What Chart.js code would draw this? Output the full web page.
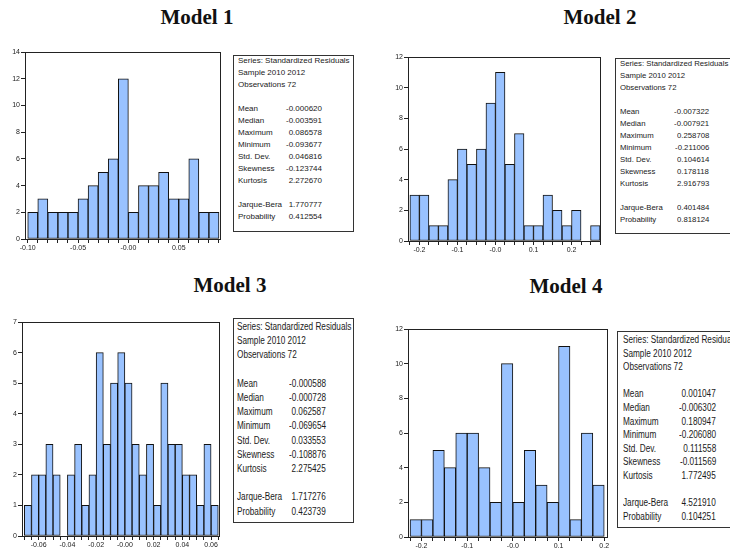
<!DOCTYPE html>
<html>
<head>
<meta charset="utf-8">
<script src="https://cdn.jsdelivr.net/npm/chart.js@4.4.0/dist/chart.umd.min.js"></script>
<style>
  body { margin: 0; width: 730px; height: 554px; overflow: hidden; position: relative; background: #fff; }
  canvas { position: absolute; }
  .title { position: absolute; font-family: "Liberation Serif", "Times New Roman", serif; font-weight: bold;
           font-size: 21px; line-height: 21px; color: #111; white-space: nowrap; transform: translateX(-50%); }
  .box { position: absolute; border: 1px solid #333; background: #fff; overflow: hidden; }
  .box span { position: absolute; white-space: nowrap; color: #1a1a1a; font-family: "Liberation Sans", Arial, sans-serif; }
</style>
</head>
<body>
<div class="title" style="left:197px;top:7px">Model 1</div>
<div class="title" style="left:600px;top:7px">Model 2</div>
<div class="title" style="left:230px;top:275px">Model 3</div>
<div class="title" style="left:566px;top:276px">Model 4</div>
<canvas id="m1"></canvas>
<canvas id="m2"></canvas>
<canvas id="m3"></canvas>
<canvas id="m4"></canvas>
<script>
// bin edges and counts
const m1Edges = [-0.10, -0.09, -0.08, -0.07, -0.06, -0.05, -0.04, -0.03, -0.02, -0.01, 0.00, 0.01, 0.02, 0.03, 0.04, 0.05, 0.06, 0.07, 0.08, 0.09];
const m1Counts = [2, 3, 2, 2, 2, 3, 4, 5, 6, 12, 2, 4, 4, 5, 3, 3, 6, 2, 2];
const m1TickVals = [-0.10, -0.05, 0.00, 0.05];
const m1TickLabels = ["-0.10", "-0.05", "-0.00", "0.05"];

const m2Edges = [-0.225, -0.2, -0.175, -0.15, -0.125, -0.1, -0.075, -0.05, -0.025, 0, 0.025, 0.05, 0.075, 0.1, 0.125, 0.15, 0.175, 0.2, 0.225, 0.25, 0.275];
const m2Counts = [3, 3, 1, 1, 4, 6, 5, 6, 9, 11, 5, 7, 1, 1, 3, 2, 1, 2, 0, 1];
const m2TickVals = [-0.2, -0.1, 0, 0.1, 0.2];
const m2TickLabels = ["-0.2", "-0.1", "-0.0", "0.1", "0.2"];

const m3Edges = [-0.07, -0.065, -0.06, -0.055, -0.05, -0.045, -0.04, -0.035, -0.03, -0.025, -0.02, -0.015, -0.01, -0.005, 0, 0.005, 0.01, 0.015, 0.02, 0.025, 0.03, 0.035, 0.04, 0.045, 0.05, 0.055, 0.06, 0.065];
const m3Counts = [1, 2, 2, 3, 2, 0, 2, 3, 1, 2, 6, 3, 5, 6, 5, 3, 2, 3, 1, 5, 3, 3, 2, 2, 1, 3, 1];
const m3TickVals = [-0.06, -0.04, -0.02, 0, 0.02, 0.04, 0.06];
const m3TickLabels = ["-0.06", "-0.04", "-0.02", "-0.00", "0.02", "0.04", "0.06"];

const m4Edges = [-0.225, -0.2, -0.175, -0.15, -0.125, -0.1, -0.075, -0.05, -0.025, 0, 0.025, 0.05, 0.075, 0.1, 0.125, 0.15, 0.175, 0.2];
const m4Counts = [1, 1, 5, 4, 6, 6, 4, 2, 10, 2, 5, 3, 2, 11, 1, 6, 3];
const m4TickVals = [-0.2, -0.1, 0, 0.1, 0.2];
const m4TickLabels = ["-0.2", "-0.1", "-0.0", "0.1", "0.2"];

// statistics boxes
const headerLines = ["Series: Standardized Residuals", "Sample 2010 2012", "Observations 72"];
const statNames = ["Mean", "Median", "Maximum", "Minimum", "Std. Dev.", "Skewness", "Kurtosis", "Jarque-Bera", "Probability"];
const m1Stats = ["-0.000620", "-0.003591", "0.086578", "-0.093677", "0.046816", "-0.123744", "2.272670", "1.770777", "0.412554"];
const m2Stats = ["-0.007322", "-0.007921", "0.258708", "-0.211006", "0.104614", "0.178118", "2.916793", "0.401484", "0.818124"];
const m3Stats = ["-0.000588", "-0.000728", "0.062587", "-0.069654", "0.033553", "-0.108876", "2.275425", "1.717276", "0.423739"];
const m4Stats = ["0.001047", "-0.006302", "0.180947", "-0.206080", "0.111558", "-0.011569", "1.772495", "4.521910", "0.104251"];

const framePlugin = {
  id: "frame",
  afterDraw(chart) {
    const { ctx, chartArea: a } = chart;
    ctx.save();
    ctx.strokeStyle = "#222";
    ctx.lineWidth = 1;
    ctx.strokeRect(a.left + 0.5, a.top + 0.5, a.right - a.left - 1, a.bottom - a.top);
    ctx.restore();
  }
};

function histogram(id, frame, edges, counts, yMax, yStep, tickVals, tickLabels, pad) {
  const canvas = document.getElementById(id);
  const L = 28, T = 8, R = 7, B = 16;
  canvas.width = frame.right - frame.left + L + R;
  canvas.height = frame.bottom - frame.top + T + B;
  canvas.style.left = (frame.left - L) + "px";
  canvas.style.top = (frame.top - T) + "px";
  const bw = edges[1] - edges[0];
  const points = counts.map((c, i) => ({ x: (edges[i] + edges[i + 1]) / 2, y: c }));
  const tickFont = { size: 7, family: "Liberation Sans" };

  new Chart(canvas, {
    type: "bar",
    data: {
      datasets: [{
        data: points,
        backgroundColor: "#99c2ff",
        borderColor: "#111",
        borderWidth: 1,
        borderSkipped: false,
        barPercentage: 1,
        categoryPercentage: 1
      }]
    },
    options: {
      responsive: false,
      animation: false,
      devicePixelRatio: 1,
      layout: { padding: { top: T, right: R, left: 0, bottom: 0 } },
      plugins: { legend: { display: false }, tooltip: { enabled: false } },
      scales: {
        x: {
          type: "linear",
          offset: false,
          min: edges[0] - pad[0] * bw,
          max: edges[edges.length - 1] + pad[1] * bw,
          afterBuildTicks: s => { s.ticks = edges.map(v => ({ value: v })); },
          afterFit: s => { s.height = B; },
          ticks: {
            autoSkip: false, maxRotation: 0, padding: 1, color: "#222", font: tickFont,
            callback: v => {
              const k = tickVals.findIndex(t => Math.abs(t - v) < 1e-9);
              return k < 0 ? "" : tickLabels[k];
            }
          },
          grid: { drawOnChartArea: false, offset: false, tickLength: 4, color: "#222" },
          border: { display: false }
        },
        y: {
          min: 0,
          max: yMax,
          afterFit: s => { s.width = L; },
          ticks: { stepSize: yStep, padding: 1, color: "#222", font: tickFont },
          grid: { drawOnChartArea: false, tickLength: 4, color: "#222" },
          border: { display: false }
        }
      }
    },
    plugins: [framePlugin]
  });
}

function statBox(box, stats) {
  const el = document.createElement("div");
  el.className = "box";
  el.style.left = box.left + "px";
  el.style.top = box.top + "px";
  el.style.width = box.width + "px";
  el.style.height = box.height + "px";
  const slots = [0, 1, 2, 4, 5, 6, 7, 8, 9, 10, 12, 13];
  const labels = headerLines.concat(statNames);
  const values = ["", "", ""].concat(stats);
  labels.forEach((text, i) => {
    const y = box.first + slots[i] * box.step - box.top - 1 - box.lineH / 2;
    const lab = document.createElement("span");
    lab.textContent = text;
    lab.style.cssText = `left:${box.labelX - box.left - 1}px;top:${y}px;font-size:${box.font}px;line-height:${box.lineH}px;transform:scaleX(${box.sx});transform-origin:left center;`;
    el.appendChild(lab);
    if (values[i]) {
      const val = document.createElement("span");
      val.textContent = values[i];
      val.style.cssText = `right:${box.left + box.width + 1 - box.valRight}px;top:${y}px;font-size:${box.font}px;line-height:${box.lineH}px;transform:scaleX(${box.sx});transform-origin:right center;`;
      el.appendChild(val);
    }
  });
  document.body.appendChild(el);
}

histogram("m1", { left: 25, right: 221, top: 52, bottom: 239 }, m1Edges, m1Counts, 14, 2, m1TickVals, m1TickLabels, [0.27, 0.2]);
histogram("m2", { left: 408, right: 601, top: 57, bottom: 241 }, m2Edges, m2Counts, 12, 2, m2TickVals, m2TickLabels, [0.2, 0.1]);
histogram("m3", { left: 22, right: 220, top: 322, bottom: 536 }, m3Edges, m3Counts, 7, 1, m3TickVals, m3TickLabels, [0.32, 0.24]);
histogram("m4", { left: 408, right: 608, top: 329, bottom: 537 }, m4Edges, m4Counts, 12, 2, m4TickVals, m4TickLabels, [0.18, 0.33]);

statBox({ left: 233, top: 55, width: 119, height: 175, first: 61, step: 12, lineH: 12, font: 8, sx: 1, labelX: 238, valRight: 322 }, m1Stats);
statBox({ left: 615, top: 58, width: 130, height: 174, first: 64, step: 12, lineH: 12, font: 8, sx: 0.97, labelX: 620, valRight: 709 }, m2Stats);
statBox({ left: 233, top: 318, width: 119, height: 203, first: 327, step: 14.2, lineH: 14, font: 10, sx: 0.82, labelX: 237, valRight: 326 }, m3Stats);
statBox({ left: 617, top: 331, width: 130, height: 195, first: 340, step: 13.6, lineH: 14, font: 10, sx: 0.82, labelX: 623, valRight: 716 }, m4Stats);
</script>
</body>
</html>
